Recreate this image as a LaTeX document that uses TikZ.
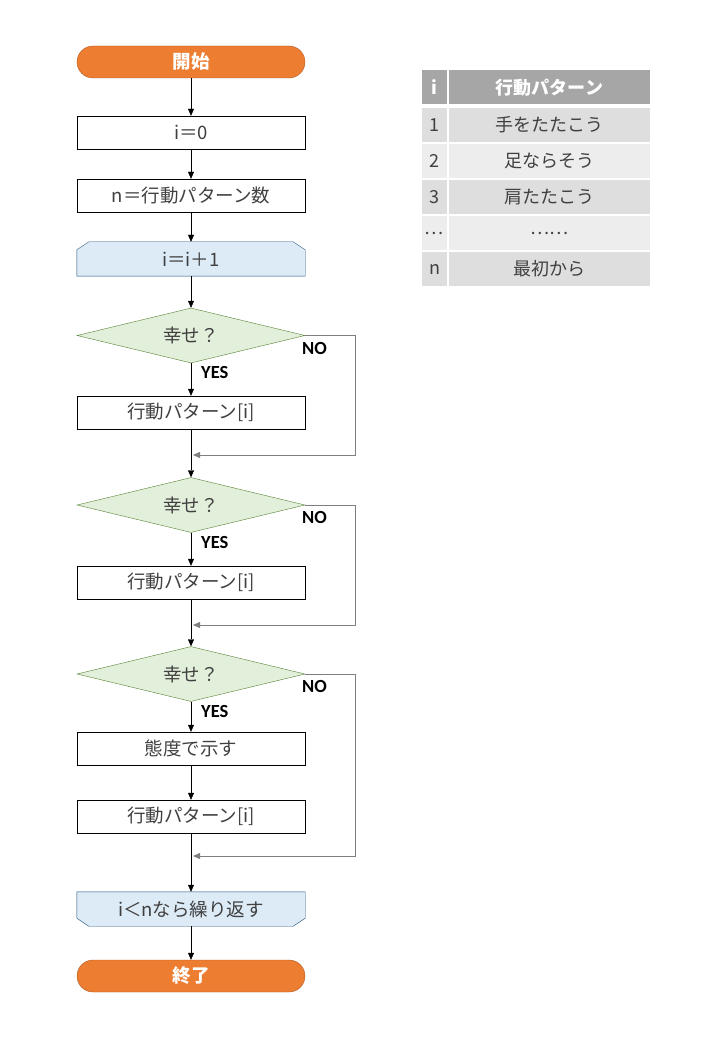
\documentclass[tikz,border=0pt]{standalone}
\usepackage{fontspec}
\usepackage{xcolor}
\setmainfont{Noto Sans CJK JP}
\newfontfamily\labelfont{Carlito}
\usetikzlibrary{shapes.geometric,arrows.meta,positioning,calc,backgrounds}

\definecolor{termfill}{HTML}{ED7D31}
\definecolor{termline}{HTML}{AE5A21}
\definecolor{loopfill}{HTML}{DDEBF7}
\definecolor{loopline}{HTML}{1F4E79}
\definecolor{decfill}{HTML}{E2EFDA}
\definecolor{decline}{HTML}{548235}
\definecolor{txtgray}{HTML}{404040}
\definecolor{nogray}{HTML}{7F7F7F}
\definecolor{hdrgray}{HTML}{A6A6A6}
\definecolor{rowdark}{HTML}{DEDEDE}
\definecolor{rowlight}{HTML}{EDEDED}

\begin{document}
\begin{tikzpicture}[x=1pt, y=-1pt,
    every node/.style={font=\fontsize{18.5}{21}\selectfont, text=txtgray},
    terminal/.style={rectangle, draw=termline, fill=termfill, rounded corners=16pt, minimum width=228pt, minimum height=32pt, text=white, font=\fontsize{18.5}{21}\selectfont\bfseries},
    process/.style={rectangle, draw=black, fill=white, minimum width=228pt, minimum height=33pt},
    decision/.style={diamond, draw=decline, fill=decfill, aspect=4, inner sep=0pt, minimum width=228pt, minimum height=55pt},
    looptext/.style={rectangle, minimum width=228pt, minimum height=34pt},
    loopshape/.style={draw=loopline, fill=loopfill},
    yesno/.style={anchor=west, inner sep=0pt, text=black, font=\labelfont\fontsize{18.5}{20}\selectfont\bfseries},
    flow/.style={draw=black, -{Triangle[length=7pt,width=6pt]}},
    noflow/.style={draw=nogray, -{Triangle[length=7pt,width=6pt]}, shorten >=2pt},
    cell/.style={rectangle, minimum height=34pt, inner sep=0pt, font=\fontsize{18}{20}\selectfont}
]
    \useasboundingbox (0,0) rectangle (720,1040);

    % Flowchart nodes
    \node[terminal] (start) at (191,62) {開始};
    \node[process] (init) at (191,132.5) {i＝0};
    \node[process] (count) at (191,195.5) {n＝行動パターン数};
    \node[looptext] (lpbegin) at (191,259) {i＝i＋1};

    \node[decision] (dec1) at (191,335.5) {幸せ？};
    \node[process] (act1) at (191,412.5) {行動パターン[i]};
    \coordinate (merge1) at (191,455);

    \node[decision] (dec2) at (191,505) {幸せ？};
    \node[process] (act2) at (191,582.5) {行動パターン[i]};
    \coordinate (merge2) at (191,625);

    \node[decision] (dec3) at (191,674) {幸せ？};
    \node[process] (show) at (191,748.5) {態度で示す};
    \node[process] (act3) at (191,816.5) {行動パターン[i]};
    \coordinate (merge3) at (191,856);

    \node[looptext] (lpend) at (191,909) {i＜nなら繰り返す};
    \node[terminal] (stop) at (191,976) {終了};

    % Loop limit outlines
    \begin{scope}[on background layer]
        \filldraw[loopshape] (lpbegin.south west) -- ($(lpbegin.north west)+(0,8)$) -- ($(lpbegin.north west)+(12,0)$)
            -- ($(lpbegin.north east)+(-12,0)$) -- ($(lpbegin.north east)+(0,8)$) -- (lpbegin.south east) -- cycle;
        \filldraw[loopshape] (lpend.north west) -- ($(lpend.south west)+(0,-8)$) -- ($(lpend.south west)+(12,0)$)
            -- ($(lpend.south east)+(-12,0)$) -- ($(lpend.south east)+(0,-8)$) -- (lpend.north east) -- cycle;
    \end{scope}

    % YES / NO labels
    \node[yesno] (yes1) at (201,372) {YES};
    \node[yesno] (no1) at (302,348) {NO};
    \node[yesno] (yes2) at (201,542) {YES};
    \node[yesno] (no2) at (302,517) {NO};
    \node[yesno] (yes3) at (201,711) {YES};
    \node[yesno] (no3) at (302,686) {NO};

    % Connections
    \draw[flow] (start) -- (init);
    \draw[flow] (init) -- (count);
    \draw[flow] (count) -- (lpbegin);
    \draw[flow] (lpbegin) -- (dec1);
    \draw[flow] (dec1) -- (act1);
    \draw[flow] (act1) -- (dec2);
    \draw[flow] (dec2) -- (act2);
    \draw[flow] (act2) -- (dec3);
    \draw[flow] (dec3) -- (show);
    \draw[flow] (show) -- (act3);
    \draw[flow] (act3) -- (lpend);
    \draw[flow] (lpend) -- (stop);

    % NO branches
    \draw[noflow] (dec1.east) -- (355,335.5) |- (merge1);
    \draw[noflow] (dec2.east) -- (355,505) |- (merge2);
    \draw[noflow] (dec3.east) -- (355,674) |- (merge3);

    % Table of action patterns
    \node[cell, fill=hdrgray, minimum width=25pt, text=white, font=\fontsize{18}{20}\selectfont\bfseries] (hdr-i) at (434.5,87.5) {i};
    \node[cell, fill=hdrgray, minimum width=201pt, text=white, font=\fontsize{18}{20}\selectfont\bfseries] (hdr-act) at (549.5,87.5) {行動パターン};
    \foreach \idx/\act/\shade [count=\k] in {1/手をたたこう/rowdark, 2/足ならそう/rowlight, 3/肩たたこう/rowdark, …/……/rowlight, n/最初から/rowdark} {
        \node[cell, fill=\shade, minimum width=25pt] (row\k-i) at (434.5,{89+36*\k}) {\idx};
        \node[cell, fill=\shade, minimum width=201pt] (row\k-act) at (549.5,{89+36*\k}) {\act};
    }
\end{tikzpicture}
\end{document}
